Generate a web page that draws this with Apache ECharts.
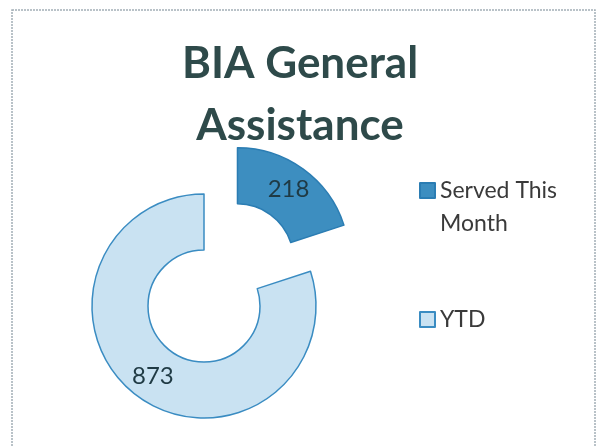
<!DOCTYPE html>
<html>
<head>
<meta charset="utf-8">
<script src="https://cdn.jsdelivr.net/npm/echarts@6/dist/echarts.min.js"></script>
<style>
  html, body { margin: 0; padding: 0; background: #fff; }
  #chart { width: 600px; height: 446px; }
</style>
</head>
<body>
<div id="chart"></div>
<script>
const categories = ['Served This Month', 'YTD']
const values = [218, 873]
const colors = ['#3d8ec0', '#c9e2f2']
const borderColors = ['#2b7db3', '#3a8cc2']

const chart = echarts.init(document.getElementById('chart'))

chart.setOption({
  animation: false,
  title: {
    text: 'BIA General\nAssistance',
    left: 'center',
    top: 28,
    textStyle: {
      fontFamily: 'Lato',
      fontSize: 44,
      fontWeight: 'bold',
      lineHeight: 62,
      color: '#2e4a4a'
    }
  },
  legend: {
    orient: 'vertical',
    left: 414,
    top: 136,
    itemWidth: 15,
    itemHeight: 15,
    itemGap: 63,
    icon: 'rect',
    // blank first line keeps the icon level with "Served This"
    formatter: function (name) {
      return name === 'Served This Month' ? ' \nServed This\nMonth' : name
    },
    textStyle: {
      fontFamily: 'Lato',
      fontSize: 23,
      lineHeight: 33,
      color: '#3a3a3a'
    },
    data: categories
  },
  graphic: [
    {
      type: 'rect',
      shape: { x: 12, y: 10, width: 583, height: 460 },
      style: { fill: 'none', stroke: '#a3afb6', lineWidth: 1.5, lineDash: [2, 1] },
      silent: true
    }
  ],
  series: [
    {
      type: 'pie',
      center: [204, 306],
      radius: [56, 112],
      startAngle: 90,
      clockwise: true,
      selectedMode: 'single',
      selectedOffset: 57,
      label: {
        position: 'inside',
        formatter: '{c}',
        fontFamily: 'Lato',
        fontSize: 24,
        color: '#1f3a44'
      },
      labelLine: { show: false },
      emphasis: { disabled: true },
      data: categories.map(function (name, i) {
        return {
          name: name,
          value: values[i],
          selected: i === 0,
          itemStyle: { color: colors[i], borderColor: borderColors[i], borderWidth: 1.5 }
        }
      })
    }
  ]
})
</script>
</body>
</html>
